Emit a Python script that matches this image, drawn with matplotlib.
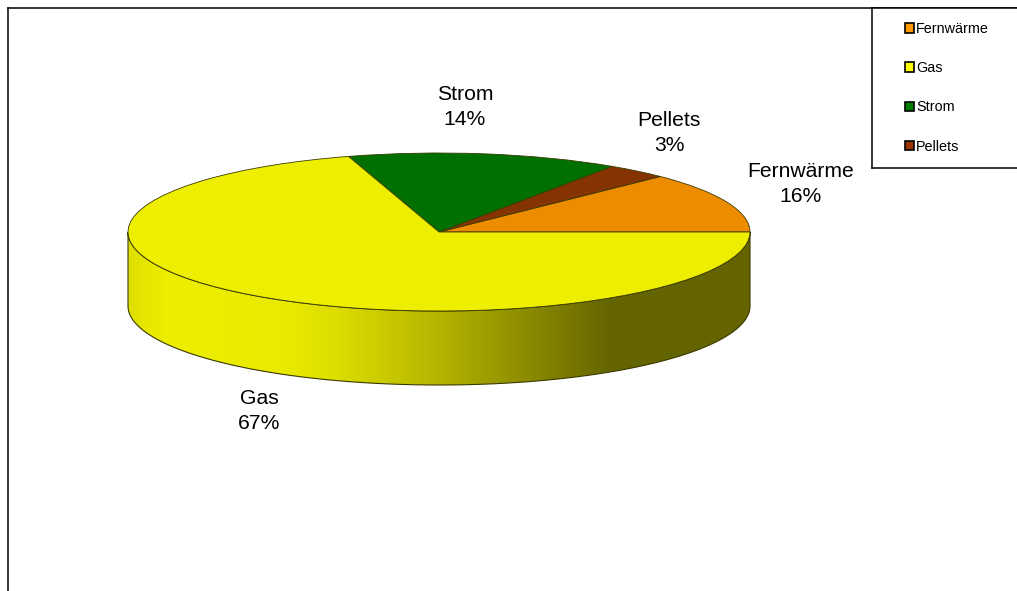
import numpy as np
import matplotlib
matplotlib.use("Agg")
import matplotlib.pyplot as plt
from matplotlib.patches import Wedge, Polygon, Patch
from matplotlib.colors import LinearSegmentedColormap

plt.rcParams['font.family'] = ['Liberation Sans', 'DejaVu Sans']

categories = ["Fernwärme", "Gas", "Strom", "Pellets"]
percent_labels = [16, 67, 14, 3]
# the tilted 3d pie squeezes the slices, these are the shares as they look on screen
drawn_shares = [12.4, 70.3, 14.1, 3.2]
colors = ["#EE8C00", "#EEEE00", "#007000", "#853300"]
legend_colors = ["#FF9900", "#FFFF00", "#008000", "#993300"]

W, H = 1017, 591
cx, cy, rx, ry, depth = 439, 232, 311, 79, 74


def to_data(px, py):
    return (px - cx) / rx, (cy - py) / ry


fig = plt.figure(figsize=(W / 100, H / 100), dpi=100, facecolor="white")
ax = fig.add_axes([8 / W, 0, (W - 8) / W, (H - 8) / H])
ax.set_xticks([])
ax.set_yticks([])
ax.spines[["right", "bottom"]].set_visible(False)
ax.spines[["left", "top"]].set_linewidth(1.1)

# side of the pie
d = depth / ry
t = np.radians(np.linspace(180, 360, 200))
side_xy = np.vstack([np.c_[np.cos(t), np.sin(t)], np.c_[np.cos(t[::-1]), np.sin(t[::-1]) - d]])
side = Polygon(side_xy, closed=True, fc="none", ec="#3A3A00", lw=0.8, zorder=3)
ax.add_patch(side)
side_cmap = LinearSegmentedColormap.from_list("side", [
    (0.0, "#E0E000"), (0.06, "#EEEE00"), (0.25, "#EAEA00"), (0.34, "#DCDC00"),
    (0.50, "#B4B400"), (0.64, "#8C8C00"), (0.78, "#646400"), (1.0, "#646400")])
grad = ax.imshow(np.linspace(0, 1, 400).reshape(1, -1), cmap=side_cmap, aspect="auto",
                 extent=(-1, 1, -1 - d, 1), zorder=2, vmin=0, vmax=1)
grad.set_clip_path(side)
ax.set_xlim(to_data(8, 0)[0], to_data(W, 0)[0])
ax.set_ylim(to_data(0, H)[1], to_data(0, 8)[1])

# top of the pie, counter clockwise from the right
order = [0, 3, 2, 1]
start = 0
for i in order:
    sweep = drawn_shares[i] / sum(drawn_shares) * 360
    ax.add_patch(Wedge((0, 0), 1, start, start + sweep, fc=colors[i], ec="#3A3A00", lw=0.6, zorder=4))
    start += sweep

label_pos = {"Fernwärme": (801, 184), "Gas": (259, 411), "Strom": (465, 107), "Pellets": (669, 133)}
for name, pct in zip(categories, percent_labels):
    x, y = to_data(*label_pos[name])
    ax.text(x, y, f"{name}\n{pct}%", ha="center", va="center", fontsize=15.2, color="black",
            linespacing=1.42, zorder=5)

# legend box
lax = fig.add_axes([872 / W, 1 - 168 / H, (W - 872) / W, 160 / H])
lax.set_xticks([])
lax.set_yticks([])
lax.spines["right"].set_visible(False)
lax.spines[["left", "top", "bottom"]].set_linewidth(1.1)
handles = [Patch(fc=c, ec="black", lw=1.2) for c in legend_colors]
lax.legend(handles, categories, loc="upper left", bbox_to_anchor=(0.2, 0.94), frameon=False,
           fontsize=10.4, handlelength=0.62, handleheight=0.62, handletextpad=0.12,
           labelspacing=1.75, borderpad=0.3, borderaxespad=0)

fig.savefig("out.png", dpi=100)
